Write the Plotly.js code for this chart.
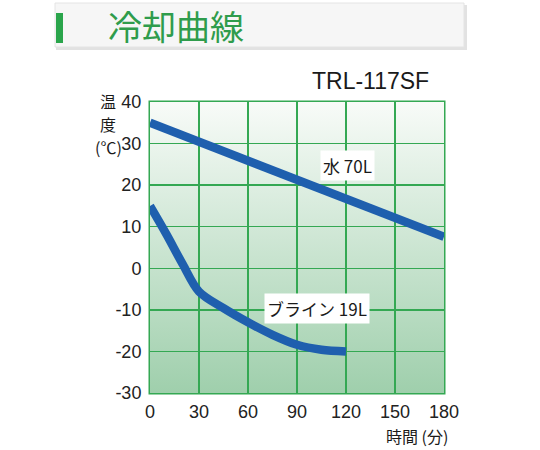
<!DOCTYPE html>
<html>
<head>
<meta charset="utf-8">
<script src="https://cdn.plot.ly/plotly-3.0.1.min.js"></script>
<style>
  html, body { margin: 0; padding: 0; background: #ffffff; }
  #chart { width: 540px; height: 450px; }
</style>
</head>
<body>
<div id="chart"></div>
<script>
// cooling curve data (minutes / degrees C)
var waterTime = [0, 30, 60, 90, 120, 150, 180];
var waterTemp = [35, 30.5, 26, 21.5, 17, 12.3, 7.6];
var brineTime = [0, 10, 20, 30, 45, 60, 75, 90, 105, 120];
var brineTemp = [15, 8.2, 1, -5.6, -9.6, -13, -16, -18.4, -19.6, -20];

var xTicks = [0, 30, 60, 90, 120, 150, 180];
var yTicks = [-30, -20, -10, 0, 10, 20, 30, 40];
var heavyX = [60];
var heavyY = [-20, 0, 20];

var chartTitle = '冷却曲線';
var modelName = 'TRL-117SF';
var waterLabel = '水 70L';
var brineLabel = 'ブライン 19L';
var xTitle = '時間 (分)';
var yTitleLines = ['温', '度', '(℃)'];

// plot box in pixels
var W = 540, H = 450;
var box = {l: 150, r: 444, t: 102, b: 393};
function px(x) { return (x - box.l) / (box.r - box.l); }
function py(y) { return (box.b - y) / (box.b - box.t); }

var gridGreen = '#34a853';
var lineBlue = '#1f5fae';
var font = 'Liberation Sans, Arial, "Noto Sans CJK JP", sans-serif';
var jpFont = '"Noto Sans CJK JP", sans-serif';

var bgSvg = '<svg xmlns="http://www.w3.org/2000/svg" width="10" height="100" preserveAspectRatio="none">' +
  '<defs><linearGradient id="g" x1="0" y1="0" x2="0" y2="1">' +
  '<stop offset="0" stop-color="#f8fbf8"/><stop offset="1" stop-color="#9fcfac"/>' +
  '</linearGradient></defs><rect width="10" height="100" fill="url(#g)"/></svg>';

var traces = [
  {
    x: waterTime, y: waterTemp, type: 'scatter', mode: 'lines',
    line: {color: lineBlue, width: 8.5}, hoverinfo: 'skip'
  },
  {
    x: brineTime, y: brineTemp, type: 'scatter', mode: 'lines',
    line: {color: lineBlue, width: 8.5, shape: 'spline', smoothing: 0.9}, hoverinfo: 'skip'
  }
];

var shapes = [];
heavyX.forEach(function(v) {
  shapes.push({type: 'line', xref: 'x', yref: 'paper', x0: v, x1: v, y0: 0, y1: 1,
    line: {color: gridGreen, width: 3}, layer: 'between'});
});
heavyY.forEach(function(v) {
  shapes.push({type: 'line', xref: 'paper', yref: 'y', x0: 0, x1: 1, y0: v, y1: v,
    line: {color: gridGreen, width: 3}, layer: 'between'});
});
// frame
shapes.push({type: 'rect', xref: 'paper', yref: 'paper', x0: 0, x1: 1, y0: 0, y1: 1,
  line: {color: gridGreen, width: 3}, layer: 'between'});
// header: shadow, panel, green bar
shapes.push({type: 'rect', xref: 'paper', yref: 'paper', x0: px(56), x1: px(467), y0: py(50), y1: py(5),
  line: {width: 0}, fillcolor: '#e2e2e2', layer: 'above'});
shapes.push({type: 'rect', xref: 'paper', yref: 'paper', x0: px(55), x1: px(464), y0: py(47), y1: py(3),
  line: {width: 1, color: '#e4e4e4'}, fillcolor: '#f6f6f6', layer: 'above'});
shapes.push({type: 'rect', xref: 'paper', yref: 'paper', x0: px(56), x1: px(63), y0: py(43), y1: py(13),
  line: {width: 0}, fillcolor: '#2aa54b', layer: 'above'});

var annotations = [
  {text: chartTitle, xref: 'paper', yref: 'paper', x: px(106), y: py(25), xanchor: 'left', yanchor: 'middle',
    showarrow: false, font: {family: jpFont, size: 34, color: '#2f9c4c'}},
  {text: modelName, xref: 'paper', yref: 'paper', x: px(431), y: py(81), xanchor: 'right', yanchor: 'middle',
    showarrow: false, font: {family: font, size: 23, color: '#1a1a1a'}},
  {text: waterLabel, xref: 'x', yref: 'y', x: 121, y: 24.8, showarrow: false,
    bgcolor: '#ffffff', borderpad: 2, font: {family: jpFont, size: 17, color: '#1a1a1a'}},
  {text: brineLabel, xref: 'x', yref: 'y', x: 102, y: -9.6, showarrow: false,
    bgcolor: '#ffffff', borderpad: 2, font: {family: jpFont, size: 17, color: '#1a1a1a'}},
  {text: xTitle, xref: 'paper', yref: 'paper', x: px(449), y: py(423), xanchor: 'right', yanchor: 'top',
    showarrow: false, borderpad: 0, font: {family: jpFont, size: 16, color: '#1a1a1a'}}
];
var yTitleY = [101, 124, 147];
yTitleLines.forEach(function(t, i) {
  annotations.push({text: t, xref: 'paper', yref: 'paper', x: px(108), y: py(yTitleY[i]),
    xanchor: 'center', yanchor: 'middle', showarrow: false,
    font: {family: jpFont, size: 16, color: '#1a1a1a'}});
});

var layout = {
  width: W, height: H,
  margin: {l: box.l, r: W - box.r, t: box.t, b: H - box.b, pad: 0},
  paper_bgcolor: '#ffffff',
  plot_bgcolor: 'rgba(0,0,0,0)',
  showlegend: false,
  xaxis: {
    range: [0, 180], tickvals: xTicks, ticktext: xTicks.map(String),
    showgrid: true, gridcolor: gridGreen, gridwidth: 1.5, zeroline: false,
    showline: false, ticks: 'outside', ticklen: 2, tickcolor: 'rgba(0,0,0,0)',
    tickfont: {family: font, size: 18, color: '#222222'}, fixedrange: true
  },
  yaxis: {
    range: [-30, 40], tickvals: yTicks, ticktext: yTicks.map(String),
    showgrid: true, gridcolor: gridGreen, gridwidth: 1.5, zeroline: false,
    showline: false, ticks: 'outside', ticklen: 4, tickcolor: 'rgba(0,0,0,0)',
    tickfont: {family: font, size: 18, color: '#222222'}, fixedrange: true
  },
  images: [
    {source: 'data:image/svg+xml;charset=utf-8,' + encodeURIComponent(bgSvg),
      xref: 'x', yref: 'y', x: 0, y: 40, sizex: 180, sizey: 70,
      sizing: 'stretch', xanchor: 'left', yanchor: 'top', layer: 'below'}
  ],
  shapes: shapes,
  annotations: annotations
};

Plotly.newPlot('chart', traces, layout, {staticPlot: true, displayModeBar: false});
</script>
</body>
</html>
